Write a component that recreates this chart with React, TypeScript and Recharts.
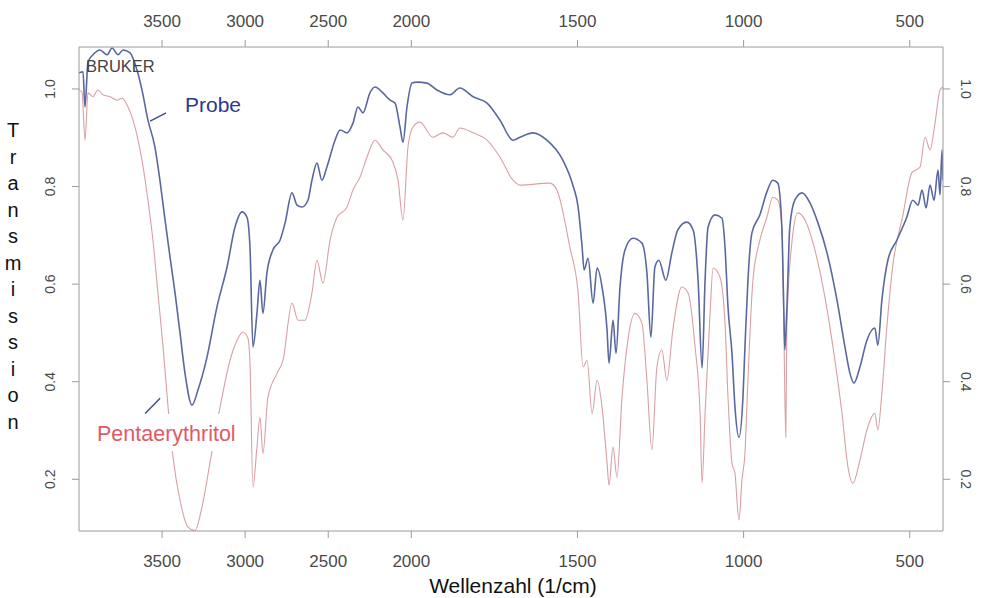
import React from "react";
import { LineChart, Line, XAxis, YAxis, ReferenceLine } from "recharts";

const FONT = '"Liberation Sans", Arial, Helvetica, sans-serif';

// wavenumber (1/cm) and transmission
const probeWn = [
  4000, 3976, 3964, 3946, 3916, 3874, 3831, 3801, 3765, 3735,
  3693, 3651, 3621, 3585, 3543, 3513, 3482, 3452, 3422, 3392,
  3362, 3320, 3284, 3230, 3170, 3109, 3061, 3019, 2989, 2971,
  2953, 2929, 2911, 2893, 2869, 2833, 2790, 2760, 2718, 2688,
  2658, 2622, 2598, 2568, 2538, 2508, 2459, 2429, 2387, 2351,
  2321, 2291, 2249, 2219, 2171, 2128, 2098, 2068, 2050, 2026,
  1998, 1983, 1953, 1923, 1884, 1854, 1814, 1772, 1733, 1694,
  1673, 1634, 1592, 1544, 1514, 1498, 1486, 1480, 1468, 1453,
  1441, 1426, 1411, 1405, 1393, 1384, 1372, 1357, 1333, 1306,
  1291, 1279, 1267, 1255, 1234, 1216, 1198, 1171, 1152, 1137,
  1125, 1116, 1107, 1086, 1065, 1056, 1047, 1035, 1026, 1014,
  1002, 996, 987, 975, 951, 930, 912, 897, 885, 879,
  876, 870, 861, 846, 824, 800, 776, 749, 719, 695,
  680, 668, 650, 629, 605, 596, 584, 566, 539, 509,
  491, 475, 463, 451, 439, 427, 415, 409, 403, 400,
];
const probeT = [
  1.033, 1.035, 0.963, 1.055, 1.07, 1.08, 1.07, 1.084, 1.07, 1.08,
  1.074, 1.039, 0.998, 0.936, 0.881, 0.813, 0.731, 0.655, 0.582, 0.5,
  0.417, 0.352, 0.383, 0.45, 0.553, 0.635, 0.717, 0.748, 0.737, 0.676,
  0.471, 0.54, 0.608, 0.54, 0.623, 0.67, 0.69, 0.725, 0.787, 0.762,
  0.758, 0.772, 0.813, 0.848, 0.813, 0.84, 0.895, 0.916, 0.91, 0.93,
  0.963, 0.951, 0.992, 1.004, 0.992, 0.977, 0.971, 0.922, 0.891, 0.963,
  1.012, 1.014, 1.012, 0.998, 0.988, 1.002, 0.984, 0.971, 0.936, 0.895,
  0.901, 0.91, 0.895, 0.854, 0.803, 0.758, 0.676, 0.629, 0.653, 0.561,
  0.633, 0.594, 0.506, 0.438, 0.526, 0.458, 0.594, 0.67, 0.694, 0.684,
  0.623, 0.491, 0.635, 0.649, 0.608, 0.664, 0.711, 0.727, 0.711, 0.608,
  0.428, 0.608, 0.717, 0.742, 0.735, 0.676, 0.553, 0.458, 0.348, 0.286,
  0.368, 0.471, 0.608, 0.705, 0.742, 0.789, 0.813, 0.807, 0.717, 0.547,
  0.465, 0.547, 0.717, 0.772, 0.787, 0.766, 0.725, 0.664, 0.567, 0.471,
  0.417, 0.397, 0.43, 0.485, 0.51, 0.475, 0.567, 0.649, 0.69, 0.737,
  0.772, 0.762, 0.793, 0.756, 0.803, 0.772, 0.834, 0.783, 0.875, 0.813,
];

const pentaWn = [
  4000, 3982, 3964, 3946, 3916, 3886, 3856, 3813, 3771, 3741,
  3705, 3663, 3621, 3585, 3555, 3525, 3494, 3464, 3434, 3392,
  3344, 3302, 3260, 3212, 3151, 3091, 3049, 3013, 2983, 2971,
  2953, 2929, 2911, 2893, 2863, 2808, 2772, 2718, 2682, 2640,
  2598, 2568, 2532, 2489, 2447, 2387, 2351, 2309, 2267, 2219,
  2171, 2116, 2080, 2050, 2020, 1995, 1974, 1935, 1905, 1875,
  1854, 1814, 1772, 1733, 1694, 1673, 1583, 1562, 1523, 1498,
  1483, 1471, 1456, 1441, 1426, 1411, 1405, 1393, 1381, 1366,
  1351, 1327, 1306, 1291, 1276, 1261, 1246, 1231, 1213, 1186,
  1167, 1146, 1131, 1125, 1116, 1101, 1092, 1071, 1056, 1047,
  1035, 1026, 1014, 1005, 996, 987, 972, 951, 930, 912,
  897, 885, 879, 873, 870, 855, 837, 815, 791, 761,
  731, 704, 686, 671, 650, 629, 605, 596, 584, 569,
  551, 521, 494, 469, 454, 439, 424, 409, 400,
];
const pentaT = [
  0.998, 0.994, 0.895, 0.992, 0.984, 0.998, 0.988, 0.984, 0.977, 0.981,
  0.963, 0.922, 0.854, 0.772, 0.69, 0.582, 0.471, 0.348, 0.245, 0.157,
  0.102, 0.095, 0.143, 0.233, 0.348, 0.444, 0.485, 0.502, 0.489, 0.438,
  0.184, 0.266, 0.327, 0.253, 0.368, 0.417, 0.444, 0.561, 0.526, 0.526,
  0.582, 0.649, 0.602, 0.69, 0.737, 0.758, 0.793, 0.819, 0.86, 0.895,
  0.875, 0.854, 0.813, 0.731, 0.881, 0.922, 0.932, 0.901, 0.91, 0.901,
  0.92, 0.91, 0.895, 0.86, 0.813, 0.803, 0.807, 0.793, 0.676, 0.582,
  0.43, 0.444, 0.335, 0.403, 0.348, 0.233, 0.188, 0.266, 0.204, 0.368,
  0.471, 0.54, 0.52, 0.403, 0.26, 0.43, 0.465, 0.403, 0.506, 0.594,
  0.582, 0.471, 0.335, 0.192, 0.335, 0.54, 0.633, 0.614, 0.52, 0.368,
  0.233, 0.212, 0.116, 0.198, 0.253, 0.403, 0.608, 0.69, 0.737, 0.778,
  0.772, 0.717, 0.512, 0.286, 0.512, 0.684, 0.746, 0.731, 0.684, 0.594,
  0.471, 0.335, 0.225, 0.192, 0.239, 0.301, 0.335, 0.301, 0.376, 0.512,
  0.638, 0.74, 0.828, 0.84, 0.901, 0.875, 0.93, 0.998, 1.004,
];

const xTickLabels = [3500, 3000, 2500, 2000, 1500, 1000, 500];
const yTicks = [0.2, 0.4, 0.6, 0.8, 1.0];

// label leader lines, [wavenumber, transmission] pairs
const probeLeader = [[3572, 0.934], [3476, 0.951]];
const pentaLeader = [[3602, 0.335], [3512, 0.366]];

// Bruker plots squeeze everything above 2000 1/cm to half scale
const toAxis = (wn: number) => (wn > 2000 ? 2000 + (wn - 2000) / 2 : wn);
const fromAxis = (u: number) => (u > 2000 ? 2000 + (u - 2000) * 2 : u);

const probe = probeWn.map((wn, i) => ({ u: toAxis(wn), t: probeT[i] }));
const penta = pentaWn.map((wn, i) => ({ u: toAxis(wn), t: pentaT[i] }));
const xTicks = xTickLabels.map(toAxis);
const seg = (pts: number[][]) => pts.map(([wn, t]) => ({ x: toAxis(wn), y: t }));

const X_DOMAIN = [400, 3000];
const Y_DOMAIN = [0.094, 1.086];
const AXIS = "#9a9a9a";
const TICK_TXT = "#4a4a4a";

const TopTick = (p: any) => (
  <text x={p.x} y={27} textAnchor="middle" fontSize={17} fontFamily={FONT} fill={TICK_TXT}>
    {fromAxis(p.payload.value)}
  </text>
);
const BottomTick = (p: any) => (
  <text x={p.x} y={567} textAnchor="middle" fontSize={17} fontFamily={FONT} fill={TICK_TXT}>
    {fromAxis(p.payload.value)}
  </text>
);
const LeftTick = (p: any) => (
  <text transform={`translate(50,${p.y}) rotate(-90)`} textAnchor="middle" dy="0.36em" fontSize={14} fontFamily={FONT} fill={TICK_TXT}>
    {p.payload.value.toFixed(1)}
  </text>
);
const RightTick = (p: any) => (
  <text transform={`translate(966,${p.y}) rotate(90)`} textAnchor="middle" dy="0.36em" fontSize={14} fontFamily={FONT} fill={TICK_TXT}>
    {p.payload.value.toFixed(1)}
  </text>
);

export default function App() {
  const letters = "Transmission".split("");
  return (
    <div style={{ position: "absolute", left: 0, top: 0, width: 983, height: 598, background: "#fff" }}>
      <LineChart width={983} height={598} margin={{ top: 0, right: 0, bottom: 0, left: 0 }}>
        <XAxis xAxisId="top" orientation="top" type="number" dataKey="u" domain={X_DOMAIN} allowDataOverflow reversed
          ticks={xTicks} height={47} stroke={AXIS} tickSize={7} tick={<TopTick />} />
        <XAxis xAxisId="bottom" orientation="bottom" type="number" dataKey="u" domain={X_DOMAIN} allowDataOverflow reversed
          ticks={xTicks} height={67} stroke={AXIS} tickSize={7} tick={<BottomTick />} />
        <YAxis yAxisId="left" orientation="left" type="number" domain={Y_DOMAIN} allowDataOverflow
          ticks={yTicks} width={79} stroke={AXIS} tickSize={7} tick={<LeftTick />} />
        <YAxis yAxisId="right" orientation="right" type="number" domain={Y_DOMAIN} allowDataOverflow
          ticks={yTicks} width={40} stroke={AXIS} tickSize={7} tick={<RightTick />} />
        <Line data={penta} xAxisId="top" yAxisId="right" dataKey="t" type="monotone" stroke="#d9a0a4"
          strokeWidth={1.1} dot={false} isAnimationActive={false} />
        <Line data={probe} xAxisId="bottom" yAxisId="left" dataKey="t" type="monotone" stroke="#5a68a0"
          strokeWidth={1.6} dot={false} isAnimationActive={false} />
        <ReferenceLine xAxisId="bottom" yAxisId="left" segment={seg(probeLeader)} stroke="#3a4a90" strokeWidth={1.4} ifOverflow="visible" />
        <ReferenceLine xAxisId="bottom" yAxisId="left" segment={seg(pentaLeader)} stroke="#3a4a90" strokeWidth={1.4} ifOverflow="visible" />
      </LineChart>
      <svg width={983} height={598} style={{ position: "absolute", left: 0, top: 0, pointerEvents: "none" }}>
        <text x={86} y={72} fontSize={16.5} fontFamily={FONT} fill="#444">BRUKER</text>
        <text x={185} y={111.5} fontSize={21} fontFamily={FONT} fill="#2b3990">Probe</text>
        <rect x={83} y={414} width={167} height={37} fill="#fff" />
        <text x={97} y={441} fontSize={21.5} fontFamily={FONT} fill="#e05a66">Pentaerythritol</text>
        <text x={513} y={593} textAnchor="middle" fontSize={21} fontFamily={FONT} fill="#111">Wellenzahl (1/cm)</text>
        <text x={13} y={137} textAnchor="middle" fontSize={20} fontFamily={FONT} fill="#111">
          {letters.map((c, i) => (
            <tspan key={i} x={13} dy={i === 0 ? 0 : 26.5}>{c}</tspan>
          ))}
        </text>
      </svg>
    </div>
  );
}
